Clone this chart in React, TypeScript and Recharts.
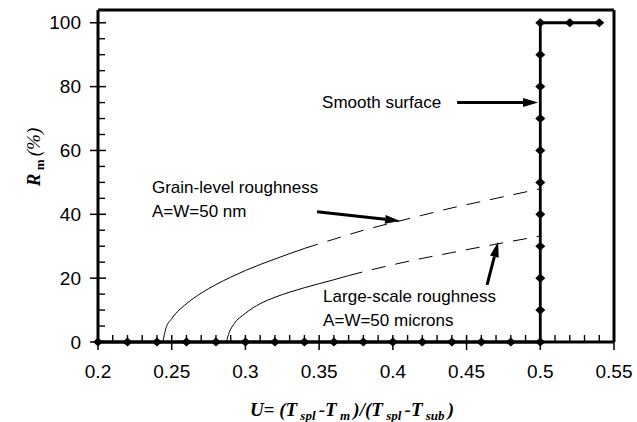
import { LineChart, Line, XAxis, YAxis, ReferenceLine, ReferenceDot } from "recharts";

// axis ticks
const xMajorTicks = [0.2, 0.25, 0.3, 0.35, 0.4, 0.45, 0.5, 0.55];
const xTickLabels = ["0.2", "0.25", "0.3", "0.35", "0.4", "0.45", "0.5", "0.55"];
const yMajorTicks = [0, 20, 40, 60, 80, 100];
const yTickLabels = ["0", "20", "40", "60", "80", "100"];

// smooth surface (diamonds)
const smoothU = [0.2, 0.22, 0.24, 0.26, 0.28, 0.3, 0.32, 0.34, 0.36, 0.38, 0.4, 0.42, 0.44, 0.46, 0.48,
  0.5, 0.5, 0.5, 0.5, 0.5, 0.5, 0.5, 0.5, 0.5, 0.5, 0.5, 0.52, 0.54];
const smoothR = [0, 0, 0, 0, 0, 0, 0, 0, 0, 0, 0, 0, 0, 0, 0,
  0, 10, 20, 30, 40, 50, 60, 70, 80, 90, 100, 100, 100];

// grain-level roughness, A=W=50 nm
const grainU = [0.244, 0.246, 0.25, 0.26, 0.27, 0.28, 0.29, 0.3, 0.32, 0.34, 0.36, 0.38, 0.4, 0.42, 0.44, 0.46, 0.48, 0.5];
const grainR = [0, 4.2, 7.3, 12, 15.3, 18, 20.3, 22.4, 26, 29.3, 32.2, 35, 37.4, 39.7, 42, 44, 46, 48];
const grainDashFrom = 0.34;

// large-scale roughness, A=W=50 microns
const largeU = [0.287, 0.289, 0.292, 0.3, 0.31, 0.32, 0.34, 0.36, 0.37, 0.38, 0.4, 0.42, 0.44, 0.46, 0.48, 0.5];
const largeR = [0, 3, 5.5, 9, 12, 14, 17, 19.5, 20.8, 22, 24.2, 26.2, 28, 29.8, 31.5, 33.2];
const largeDashFrom = 0.37;

const rows = (us: number[], rs: number[]) => us.map((u, i) => ({ u, r: rs[i] }));
const smoothData = rows(smoothU, smoothR);
const grainData = rows(grainU, grainR);
const largeData = rows(largeU, largeR);

const xAllTicks: number[] = [];
for (let i = 0; i <= 35; i++) xAllTicks.push(Number((0.2 + i * 0.01).toFixed(2)));
const yAllTicks: number[] = [];
for (let v = 0; v <= 100; v += 5) yAllTicks.push(v);

const SANS = "'Liberation Sans', Arial, Helvetica, sans-serif";
const SERIF = "'Liberation Serif', 'Times New Roman', serif";

function XTick({ x, y, payload }: any) {
  const idx = xMajorTicks.findIndex((t) => Math.abs(t - payload.value) < 1e-6);
  if (idx < 0) return <line x1={x} y1={y} x2={x} y2={y - 7} stroke="#000" strokeWidth={1.4} />;
  return (
    <g>
      <line x1={x} y1={y - 7} x2={x} y2={y + 8} stroke="#000" strokeWidth={1.5} />
      <text x={x} y={y + 36} textAnchor="middle" fontFamily={SANS} fontSize={19} fill="#000">
        {xTickLabels[idx]}
      </text>
    </g>
  );
}

function YTick({ x, y, payload }: any) {
  const idx = yMajorTicks.indexOf(payload.value);
  if (idx < 0) return <line x1={x} y1={y} x2={x + 7} y2={y} stroke="#000" strokeWidth={1.4} />;
  return (
    <g>
      <line x1={x - 8} y1={y} x2={x + 8} y2={y} stroke="#000" strokeWidth={1.5} />
      <text x={x - 17} y={y + 6.5} textAnchor="end" fontFamily={SANS} fontSize={19} fill="#000">
        {yTickLabels[idx]}
      </text>
    </g>
  );
}

function Diamond({ cx, cy, index }: any) {
  const sx = 5, sy = 4.6;
  return <path key={index} d={`M${cx},${cy - sy}L${cx + sx},${cy}L${cx},${cy + sy}L${cx - sx},${cy}Z`} fill="#000" />;
}

function Arrow({ x1, y1, x2, y2 }: any) {
  const dx = x2 - x1, dy = y2 - y1;
  const len = Math.hypot(dx, dy) || 1;
  const ux = dx / len, uy = dy / len;
  const hl = 15, hw = 4.5;
  const bx = x2 - ux * hl, by = y2 - uy * hl;
  return (
    <g>
      <line x1={x1} y1={y1} x2={bx} y2={by} stroke="#000" strokeWidth={3} />
      <polygon points={`${x2},${y2} ${bx - uy * hw},${by + ux * hw} ${bx + uy * hw},${by - ux * hw}`} fill="#000" />
    </g>
  );
}

const noteText = (lines: string[]) => (p: any) => (
  <text x={p.cx} y={p.cy} fontFamily={SANS} fontSize={17} fill="#000">
    {lines.map((l, i) => (
      <tspan key={i} x={p.cx} dy={i === 0 ? 0 : 24}>{l}</tspan>
    ))}
  </text>
);

function XTitle({ viewBox }: any) {
  const cx = viewBox ? viewBox.x + viewBox.width / 2 : 356;
  const y = viewBox ? viewBox.y + 74 : 416;
  const sub = { fontSize: 13, dy: 4 };
  return (
    <text x={cx - 4} y={y} textAnchor="middle" fontFamily={SERIF} fontSize={19} fontWeight="bold" fontStyle="italic" fill="#000">
      <tspan>U= (T</tspan>
      <tspan {...sub}> spl </tspan>
      <tspan dy={-4}>-T</tspan>
      <tspan {...sub}> m </tspan>
      <tspan dy={-4}>)/(T</tspan>
      <tspan {...sub}> spl </tspan>
      <tspan dy={-4}>-T</tspan>
      <tspan {...sub}> sub </tspan>
      <tspan dy={-4}>)</tspan>
    </text>
  );
}

function YTitle() {
  const x = 40, y = 157;
  return (
    <text x={x} y={y} transform={`rotate(-90 ${x} ${y})`} textAnchor="middle" fontFamily={SERIF} fontSize={19} fill="#000">
      <tspan fontWeight="bold" fontStyle="italic">R</tspan>
      <tspan fontWeight="bold" fontSize={13} dy={4}> m </tspan>
      <tspan fontStyle="italic" dy={-4}>(%)</tspan>
    </text>
  );
}

export default function App() {
  return (
    <div style={{ position: "absolute", left: 0, top: 0, width: 637, height: 422, background: "#fff" }}>
      <LineChart width={637} height={422} margin={{ top: 10, right: 23, bottom: 0, left: 0 }}>
        <XAxis
          type="number"
          dataKey="u"
          domain={[0.2, 0.55]}
          ticks={xAllTicks}
          interval={0}
          height={80}
          tickSize={0}
          tickMargin={0}
          tickLine={false}
          tick={<XTick />}
          axisLine={{ stroke: "#000", strokeWidth: 3 }}
          label={{ content: (p: any) => <XTitle viewBox={p.viewBox} /> }}
        />
        <YAxis
          type="number"
          dataKey="r"
          domain={[0, 104]}
          ticks={yAllTicks}
          interval={0}
          width={98}
          tickSize={0}
          tickMargin={0}
          tickLine={false}
          tick={<YTick />}
          axisLine={{ stroke: "#000", strokeWidth: 3 }}
          label={{ content: () => <YTitle /> }}
        />
        <ReferenceLine y={104} stroke="#000" strokeWidth={3} ifOverflow="visible" />
        <ReferenceLine x={0.55} stroke="#000" strokeWidth={3} ifOverflow="visible" />

        <Line data={grainData.filter((d) => d.u <= grainDashFrom)} dataKey="r" type="monotone" stroke="#000" strokeWidth={1} dot={false} isAnimationActive={false} />
        <Line data={grainData.filter((d) => d.u >= grainDashFrom)} dataKey="r" type="monotone" stroke="#000" strokeWidth={1} strokeDasharray="14 10" dot={false} isAnimationActive={false} />
        <Line data={largeData.filter((d) => d.u <= largeDashFrom)} dataKey="r" type="monotone" stroke="#000" strokeWidth={1} dot={false} isAnimationActive={false} />
        <Line data={largeData.filter((d) => d.u >= largeDashFrom)} dataKey="r" type="monotone" stroke="#000" strokeWidth={1} strokeDasharray="14 10" dot={false} isAnimationActive={false} />
        <Line data={smoothData} dataKey="r" type="linear" stroke="#000" strokeWidth={2.8} dot={<Diamond />} isAnimationActive={false} />

        <ReferenceLine segment={[{ x: 0.4436, y: 75 }, { x: 0.4985, y: 75 }]} shape={Arrow} ifOverflow="visible" />
        <ReferenceLine segment={[{ x: 0.3486, y: 40.8 }, { x: 0.4049, y: 37.9 }]} shape={Arrow} ifOverflow="visible" />
        <ReferenceLine segment={[{ x: 0.4639, y: 17.9 }, { x: 0.4714, y: 31.3 }]} shape={Arrow} ifOverflow="visible" />

        <ReferenceDot x={0.352} y={73.4} r={0} shape={noteText(["Smooth surface"])} ifOverflow="visible" />
        <ReferenceDot x={0.2366} y={46.7} r={0} shape={noteText(["Grain-level roughness", "A=W=50 nm"])} ifOverflow="visible" />
        <ReferenceDot x={0.3527} y={12.5} r={0} shape={noteText(["Large-scale roughness", "A=W=50 microns"])} ifOverflow="visible" />
      </LineChart>
    </div>
  );
}
